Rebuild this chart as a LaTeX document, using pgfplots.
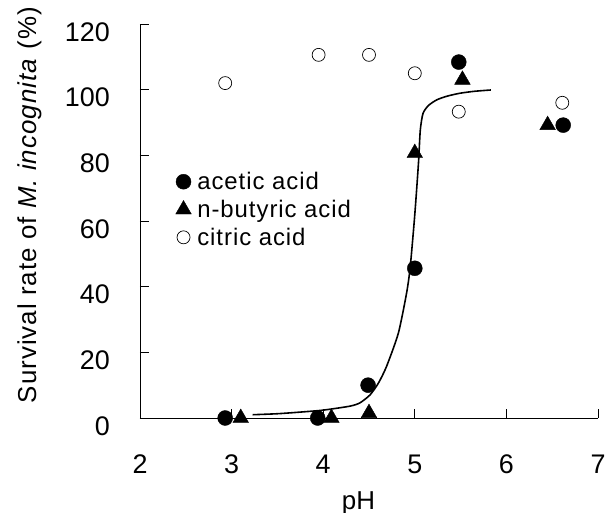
\documentclass[border=0pt]{standalone}
\usepackage{pgfplots}
\pgfplotsset{compat=1.18}
\usepackage{fontspec}
\setmainfont{Liberation Sans}
\newfontfamily\spaced[LetterSpace=4]{Liberation Sans}

\begin{document}
\begin{tikzpicture}
\useasboundingbox (-140bp,-95bp) rectangle (465bp,418bp);
\begin{axis}[
    scale only axis,
    width=458bp, height=394bp,
    xmin=2, xmax=7, ymin=0, ymax=120,
    xtick={2,3,4,5,6,7},
    ytick={0,20,40,60,80,100,120},
    axis x line=bottom, axis y line=left,
    axis line style={-, line width=0.9pt},
    tick align=inside,
    major tick length=9bp,
    tick style={line width=0.9pt, black},
    /pgf/number format/assume math mode=true,
    ticklabel style={font=\fontsize{27}{30}\selectfont, inner sep=0pt},
    yticklabel shift=30bp,
    xticklabel shift=37bp,
    yticklabel style={yshift=-8bp},
    xlabel={pH},
    ylabel={\spaced Survival rate of \textit{M. incognita} (\%)},
    xlabel style={font=\fontsize{26}{29}\selectfont, at={(axis description cs:0.477,-0.231)}, anchor=base},
    ylabel style={font=\fontsize{26}{29}\selectfont, at={(axis description cs:-0.227,0.54)}, anchor=base},
    legend style={at={(axis cs:2.388,75.5)}, anchor=north west, draw=none, fill=none,
        font=\fontsize{24}{27}\selectfont\spaced, inner sep=0pt, row sep=5bp,
        /tikz/every odd column/.append style={column sep=4bp}},
    legend cell align=left,
    clip=false,
]
% acetic acid
\addplot[only marks, mark=*, mark size=7.5bp, black, mark options={fill=black}]
    coordinates {(2.93,0) (3.94,0) (4.49,10) (5.0,45.6) (5.48,108.4) (6.62,89.2)};
\addlegendentry{acetic acid}
% n-butyric acid
\addplot[only marks, mark=triangle*, mark size=9bp, black, mark options={fill=black}]
    coordinates {(3.10,0) (4.09,0) (4.50,1.5) (5.0,80.7) (5.52,103) (6.45,89.2)};
\addlegendentry{n-butyric acid}
% citric acid
\addplot[only marks, mark=o, mark size=6.5bp, black, mark options={fill=white, line width=0.7pt}]
    coordinates {(2.93,102) (3.95,110.6) (4.5,110.6) (5.0,105) (5.48,93.3) (6.61,96)};
\addlegendentry{citric acid}
% fitted curve
\addplot[black, line width=1.6pt, smooth, tension=0.4, forget plot]
    coordinates {(3.23,1.0) (3.5,1.3) (3.75,1.8) (4.0,2.4) (4.29,3.6) (4.4,4.6)
    (4.51,7.0) (4.6,10.5) (4.69,15.6) (4.82,25.8) (4.91,38) (4.95,46) (5.0,62)
    (5.04,77.6) (5.06,87.7) (5.09,92.8) (5.15,95.2) (5.24,96.9) (5.35,98.0)
    (5.49,98.9) (5.65,99.5) (5.83,99.9)};
\end{axis}
\end{tikzpicture}
\end{document}
